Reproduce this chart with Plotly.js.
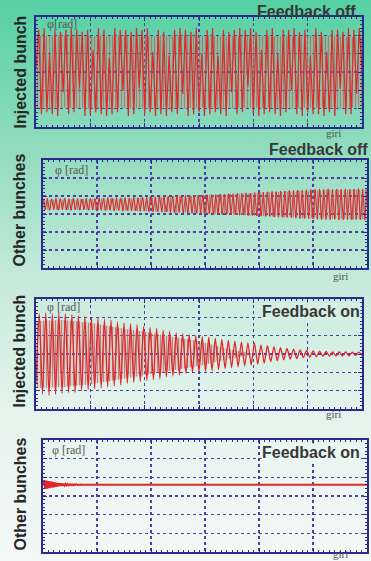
<!DOCTYPE html>
<html>
<head>
<meta charset="utf-8">
<script src="https://cdn.plot.ly/plotly-3.0.1.min.js"></script>
<style>
html,body{margin:0;padding:0;width:371px;height:561px;overflow:hidden;
background:linear-gradient(to bottom,#55d0a4 0%,#8edbbc 25%,#c6eadb 50%,#e6f4ee 75%,#f3f8f6 100%);}
#chart{width:371px;height:561px;}
</style>
</head>
<body>
<div id="chart"></div>
<script>
// ---- data (turns "giri" on x, phase phi [rad] on y) ----
const panelTitles = ["Feedback off", "Feedback off", "Feedback on", "Feedback on"];
const rowLabels = ["Injected bunch", "Other bunches", "Injected bunch", "Other bunches"];
const yUnitLabels = ["φ[rad]", "φ [rad]", "φ [rad]", "φ [rad]"];
const xUnitLabel = "giri";

// Panel 1: injected bunch, feedback off (sample step 5 turns)
const injOffPhase = [
 0.2, 2.3,-2.3, 2.4,-2.2, 1.0,-2.3, 2.3,-2.4, 2.2,
-1.1, 2.3,-2.3, 2.4,-2.2, 2.3,-0.9, 2.2,-2.4, 2.3,
-2.3, 1.2,-2.2, 2.4,-2.3, 2.3,-2.4, 0.8,-2.3, 2.4,
-2.2, 2.3,-1.0, 2.3,-2.4, 2.2,-2.3, 2.4,-0.9, 2.3,
-2.3, 2.4,-2.2, 1.1,-2.4, 2.3,-2.3, 2.2,-2.4, 0.9,
-2.2, 2.3,-2.3, 2.4,-1.2, 2.3,-2.4, 2.2,-2.3, 2.4,
-2.2, 1.0,-2.4, 2.3,-2.3, 2.4,-2.2, 0.9,-2.3, 2.3,
-2.4, 2.2,-1.1, 2.3,-2.3, 2.4,-2.2, 2.3,-0.8, 2.4,
-2.3, 2.2,-2.4, 1.2,-2.3, 2.3,-2.2, 2.4,-2.3, 1.0,
-2.4, 2.3,-2.2, 2.3,-1.0, 2.4,-2.3, 2.2,-2.4, 2.3,
-2.2, 0.9,-2.3, 2.4,-2.3, 2.2,-2.4, 1.1,-2.2, 2.3,
-2.4, 2.3,-0.9, 2.2,-2.3, 2.4,-2.3, 2.3,-1.2, 2.4,
 0.0];
// dense-oscillation envelope (step 50 turns)
const injOffUpper = [1.95,2.0,1.95,2.0,1.95,2.0,2.0,1.95,2.0,1.95,2.0,1.95,1.9];
const injOffLower = [-2.0,-1.95,-2.0,-1.95,-2.0,-2.0,-1.95,-2.0,-1.95,-2.0,-1.95,-2.0,-1.9];

// Panel 2: other bunches, feedback off (sample step 4 turns)
const othOffPhase = [
0.85,0.22,0.88,0.20,0.84,0.25,0.87,0.21,0.86,0.24,0.89,0.22,0.85,0.20,0.88,0.23,0.86,0.21,0.84,0.24,0.88,0.20,0.86,0.22,0.87,0.19,
0.90,0.20,0.88,0.18,0.92,0.21,0.89,0.17,0.91,0.20,0.90,0.16,0.92,0.19,0.89,0.18,0.93,0.17,0.90,0.15,0.94,0.18,0.92,0.14,0.95,
0.13,0.96,0.12,0.97,0.10,0.99,0.11,0.98,0.08,1.00,0.07,1.02,0.09,1.01,0.05,1.03,0.06,1.04,0.04,1.02,0.03,1.05,0.05,1.06,0.02,
1.07,0.01,1.09,-0.01,1.08,0.00,1.11,-0.03,1.10,-0.02,1.13,-0.05,1.12,-0.04,1.15,-0.07,1.14,-0.06,1.17,-0.09,1.16,-0.08,1.19,-0.11,1.20,
-0.12,1.21,-0.14,1.23,-0.13,1.25,-0.17,1.24,-0.18,1.27,-0.20,1.28,-0.19,1.30,-0.22,1.31,-0.23,1.33,-0.25,1.32,-0.26,1.35,-0.27,1.36,-0.28,
1.37,-0.30,1.39,-0.32,1.36,-0.31,1.40,-0.33,1.38,-0.30,1.39,-0.34,1.37,-0.32,1.40,-0.31,1.38,-0.33,1.39,-0.30,1.41,-0.32,1.38,-0.34,1.39];
const othOffUpper = [0.8,0.8,0.85,0.85,0.92,0.97,1.02,1.1,1.18,1.25,1.3,1.33,1.35];
const othOffLower = [0.25,0.25,0.22,0.2,0.15,0.1,0.05,-0.02,-0.1,-0.18,-0.24,-0.27,-0.3];

// Panel 3: injected bunch, feedback on (sample step 6 turns)
const injOnPhase = [
-1.6, 2.2,-2.2, 2.25,-2.25, 2.2,-2.2, 2.25,-2.15, 2.2,-2.1, 2.15,-2.1, 2.1,-2.0, 2.05,-1.95,
 2.0,-1.9, 1.95,-1.85, 1.9,-1.8, 1.85,-1.75, 1.75,-1.7, 1.7,-1.6, 1.65,-1.55, 1.6,-1.5, 1.5,
-1.45, 1.45,-1.4, 1.4,-1.35, 1.3,-1.25, 1.25,-1.2, 1.15,-1.15, 1.1,-1.05, 1.05,-1.0, 1.0,-0.95,
 0.95,-0.95, 0.9,-0.9, 0.85,-0.85, 0.8,-0.8, 0.75,-0.75, 0.7,-0.7, 0.65,-0.65, 0.6,-0.6, 0.6,
-0.55, 0.5,-0.5, 0.45,-0.42, 0.4,-0.37, 0.35,-0.32, 0.3,-0.28, 0.27,-0.25, 0.22,-0.2, 0.2,-0.18,
 0.17,-0.15, 0.15,-0.13, 0.14,-0.12, 0.12,-0.11, 0.12,-0.1, 0.11,-0.1, 0.1,-0.09, 0.1,-0.08];
const injOnUpper = [1.8,1.85,1.7,1.45,1.2,0.95,0.7,0.3,0,0,0,0,0];
const injOnLower = [-1.85,-1.8,-1.65,-1.4,-1.15,-0.9,-0.65,-0.3,0,0,0,0,0];

// Panel 4: other bunches, feedback on
const othOnTurns = [0,2,4,6,8,10,12,14,16,18,20,22,24,26,28,30,32,34,36,38,40,
  42,44,46,48,50,52,54,56,58,60,62,64,66,68,70,72,74,76,78,80,120,200,300,400,500,600];
const othOnPhase = [0.6,0.85,0.38,0.82,0.4,0.8,0.42,0.78,0.45,0.75,0.47,0.73,0.5,0.7,0.52,0.68,0.54,0.67,0.55,0.66,0.56,
  0.65,0.57,0.64,0.57,0.63,0.58,0.63,0.58,0.62,0.59,0.62,0.59,0.61,0.6,0.61,0.6,0.61,0.6,0.6,0.6,0.6,0.6,0.6,0.6,0.6,0.6];

// ---- styling ----
const W = 371, H = 561;
const px = v => v / W, py = v => 1 - v / H;
const RED = '#e3262b';
const FRAME = '#2b2b8c';
const GRID = '#4b3fa8';
const hatch = {shape:'|', size:3, solidity:0.4, fgcolor:'rgba(180,95,95,0.7)', bgcolor:'rgba(205,140,130,0.2)'};

const panels = [
  {ax:'', xd:[36,362], yd:[17,127]},
  {ax:'2', xd:[43,367], yd:[160,268]},
  {ax:'3', xd:[36,362], yd:[299,409]},
  {ax:'4', xd:[43,367], yd:[440,552]}
];

const traces = [];
function envelope(ax, up, lo){
  traces.push({type:'scatter', mode:'lines', x0:0, dx:50, y:up, xaxis:'x'+ax, yaxis:'y'+ax,
    line:{width:0}, hoverinfo:'skip'});
  traces.push({type:'scatter', mode:'lines', x0:0, dx:50, y:lo, xaxis:'x'+ax, yaxis:'y'+ax,
    line:{width:0}, fill:'tonexty', fillcolor:'rgba(205,140,130,0.25)', fillpattern:hatch, hoverinfo:'skip'});
}
envelope('', injOffUpper, injOffLower);
traces.push({type:'scatter', mode:'lines', x0:0, dx:5, y:injOffPhase, xaxis:'x', yaxis:'y', line:{color:RED, width:1.2}});
envelope('2', othOffUpper, othOffLower);
traces.push({type:'scatter', mode:'lines', x0:0, dx:4, y:othOffPhase, xaxis:'x2', yaxis:'y2', line:{color:RED, width:1}});
envelope('3', injOnUpper, injOnLower);
traces.push({type:'scatter', mode:'lines', x0:0, dx:6, y:injOnPhase, xaxis:'x3', yaxis:'y3', line:{color:RED, width:1.3, shape:'spline', smoothing:0.6}});
traces.push({type:'scatter', mode:'lines', x:othOnTurns, y:othOnPhase, xaxis:'x4', yaxis:'y4', line:{color:RED, width:2}});

const layout = {
  width:W, height:H, margin:{l:0,r:0,t:0,b:0},
  paper_bgcolor:'rgba(0,0,0,0)', plot_bgcolor:'rgba(0,0,0,0)',
  showlegend:false, annotations:[]
};
panels.forEach((p,i)=>{
  layout['xaxis'+p.ax] = {domain:[px(p.xd[0]), px(p.xd[1])], anchor:'y'+p.ax, range:[0,600], dtick:100,
    showticklabels:false, showgrid:true, gridcolor:GRID, griddash:'dot', gridwidth:1.5, zeroline:false,
    showline:true, linecolor:FRAME, linewidth:1.6, mirror:'allticks', ticks:'inside', ticklen:4, tickcolor:FRAME,
    minor:{ticks:'inside', ticklen:2, dtick:10, tickcolor:FRAME, showgrid:false}};
  layout['yaxis'+p.ax] = {domain:[py(p.yd[1]), py(p.yd[0])], anchor:'x'+p.ax, range:[-3,3], dtick:1,
    showticklabels:false, showgrid:true, gridcolor:GRID, griddash:'dot', gridwidth:1.5, zeroline:false,
    showline:true, linecolor:FRAME, linewidth:1.6, mirror:'allticks', ticks:'inside', ticklen:4, tickcolor:FRAME,
    minor:{ticks:'inside', ticklen:2, dtick:0.2, tickcolor:FRAME, showgrid:false}};
});

const titlePos = [
  {x:358, y:11.5, bg:null},
  {x:370, y:149, bg:null},
  {x:361, y:311, bg:'#d6efe4'},
  {x:361, y:452, bg:'#eaf6f1'}
];
const labelY = [72, 210, 351, 494];
const unitPos = [[45,24],[53,170],[45,307],[50,450]];
const giriPos = [[333,133],[340,276],[333,414],[340,554]];

for(let i=0;i<4;i++){
  const a = {text:'<b>'+panelTitles[i]+'</b>', xref:'paper', yref:'paper', x:px(titlePos[i].x), y:py(titlePos[i].y),
    xanchor:'right', yanchor:'middle', showarrow:false,
    font:{family:'Liberation Sans, Arial, sans-serif', size:16, color:'#383838'}};
  if(titlePos[i].bg){ a.bgcolor = titlePos[i].bg; a.borderpad = 0; }
  layout.annotations.push(a);
  layout.annotations.push({text:'<b>'+rowLabels[i]+'</b>', xref:'paper', yref:'paper', x:px(19.5), y:py(labelY[i]),
    xanchor:'center', yanchor:'middle', textangle:-90, showarrow:false,
    font:{family:'Liberation Sans, Arial, sans-serif', size:16, color:'#262626'}});
  layout.annotations.push({text:yUnitLabels[i], xref:'paper', yref:'paper', x:px(unitPos[i][0]), y:py(unitPos[i][1]),
    xanchor:'left', yanchor:'middle', showarrow:false,
    font:{family:'Liberation Serif, Times New Roman, serif', size:12, color:'#555'}});
  layout.annotations.push({text:xUnitLabel, xref:'paper', yref:'paper', x:px(giriPos[i][0]), y:py(giriPos[i][1]),
    xanchor:'center', yanchor:'middle', showarrow:false, borderpad:0,
    font:{family:'Liberation Serif, Times New Roman, serif', size:11, color:'#555'}});
}

Plotly.newPlot('chart', traces, layout, {staticPlot:true, displayModeBar:false});
</script>
</body>
</html>
